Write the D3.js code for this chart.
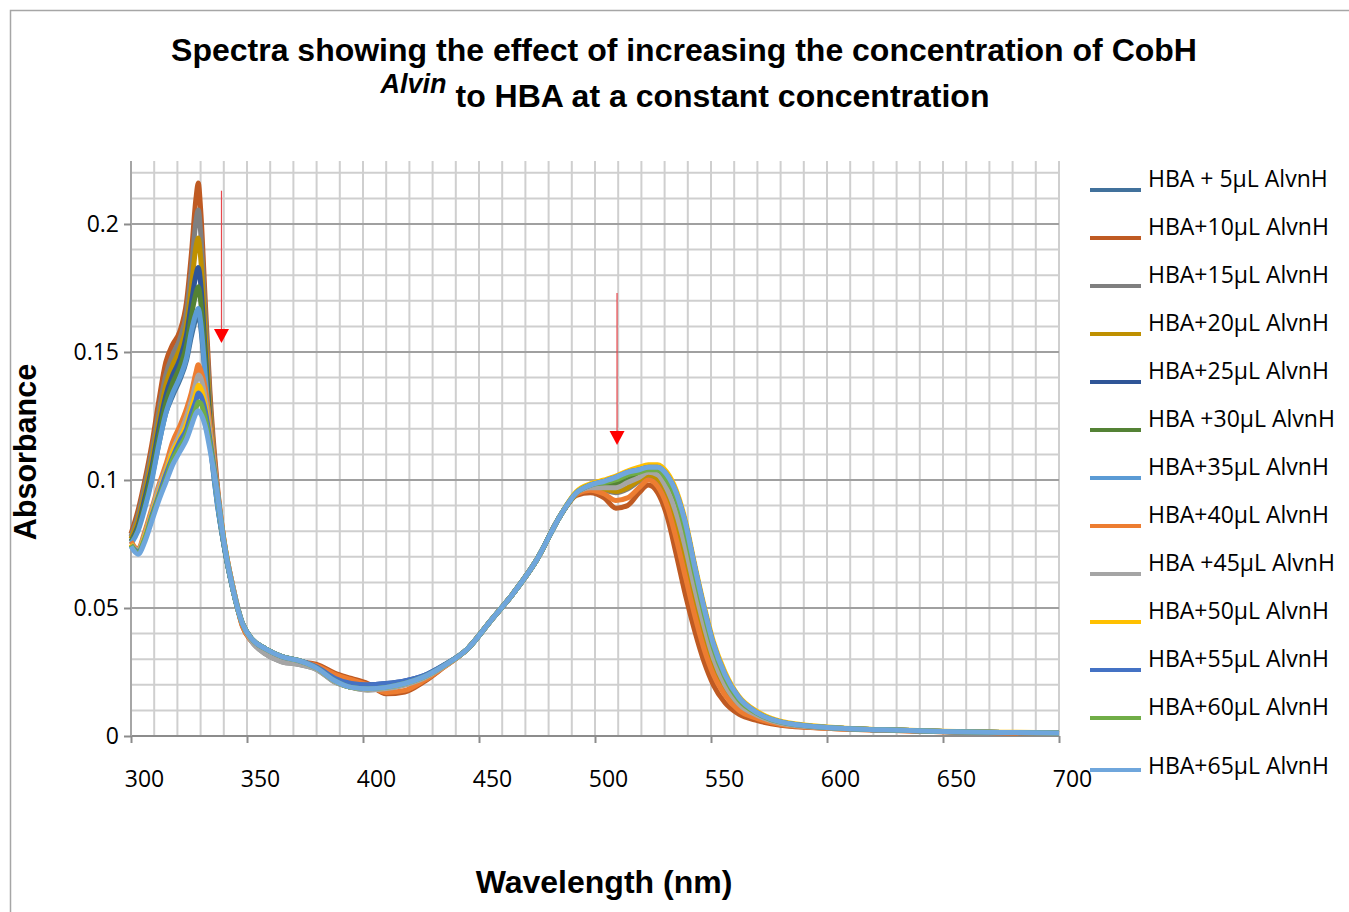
<!DOCTYPE html>
<html><head><meta charset="utf-8">
<script src="https://cdn.jsdelivr.net/npm/d3@7"></script>
<style>body{margin:0;background:#fff}</style>
</head><body><svg id="c" width="1349" height="912"></svg>
<script>
// ---------- DATA ----------
const wavelengths = [300,303,306,309,312,315,318,321,324,326,328,329,330,332,334,337,340,
  344,348,352,358,365,372,380,388,395,402,410,418,426,435,445,455,465,475,485,492,
  498,504,509,514,519,523,527,531,535,539,543,547,551,556,562,570,580,600,625,650,675,700];

const hba05 = [.077,.082,.090,.101,.114,.126,.133,.139,.147,.156,.163,.165,.160,.140,.116,.092,.075,
  .057,.044,.038,.034,.031,.0295,.0265,.0215,.019,.0185,.019,.0205,.023,.0275,.034,.045,.056,.069,.086,.095,
  .098,.0995,.101,.103,.104,.105,.105,.102,.095,.083,.066,.050,.036,.024,.015,.009,.0055,.0033,.0024,.0018,.0014,.0012];
const hba10 = [.079,.088,.100,.114,.131,.146,.153,.158,.170,.188,.210,.216,.206,.170,.135,.100,.077,
  .058,.043,.037,.0335,.0305,.029,.028,.0245,.0225,.0205,.0165,.0172,.021,.027,.034,.045,.056,.069,.086,.094,
  .095,.093,.089,.090,.095,.098,.095,.086,.071,.055,.041,.029,.020,.013,.0085,.006,.0042,.003,.0022,.0017,.0013,.001];
const hba15 = [.078,.086,.098,.111,.127,.141,.149,.155,.166,.182,.201,.2055,.197,.164,.131,.098,.076,
  .058,.044,.037,.032,.029,.028,.026,.021,.019,.018,.0185,.020,.0225,.0272,.034,.045,.056,.069,.086,.0945,
  .0965,.096,.095,.0965,.0995,.1015,.100,.094,.083,.069,.0535,.0395,.028,.0185,.0118,.0075,.0048,.0032,.0023,.0018,.0014,.0012];
const hba20 = [.077,.084,.095,.108,.123,.137,.145,.151,.161,.175,.191,.1945,.187,.157,.127,.096,.076,
  .057,.044,.038,.034,.031,.0295,.0265,.0215,.019,.0185,.019,.0205,.023,.0275,.034,.045,.056,.069,.086,.0945,
  .097,.0965,.0955,.097,.100,.102,.1005,.095,.084,.070,.0545,.040,.0285,.019,.012,.0077,.0049,.0033,.0024,.0018,.0014,.0012];
const hba25 = [.076,.082,.093,.105,.120,.133,.141,.147,.157,.169,.180,.183,.177,.150,.123,.094,.075,
  .057,.044,.038,.034,.031,.0295,.027,.0225,.0205,.020,.0205,.0215,.0235,.0278,.034,.045,.056,.069,.086,.095,
  .098,.099,.100,.102,.103,.104,.104,.100,.093,.080,.0635,.048,.0345,.023,.0142,.0088,.0054,.0033,.0024,.0018,.0014,.0012];
const hba30 = [.076,.081,.091,.103,.117,.130,.138,.144,.153,.164,.173,.1755,.170,.146,.120,.093,.075,
  .057,.044,.038,.034,.031,.0295,.0265,.0215,.019,.0185,.019,.0205,.023,.0275,.034,.045,.056,.069,.086,.095,
  .0975,.098,.0985,.100,.102,.1035,.103,.098,.090,.077,.061,.046,.033,.0218,.0135,.0085,.0052,.0033,.0024,.0018,.0014,.0012];
const hba35 = [.075,.080,.089,.100,.114,.126,.134,.140,.148,.158,.165,.167,.162,.141,.117,.092,.075,
  .057,.044,.038,.034,.031,.0295,.0265,.0215,.019,.0185,.019,.0205,.023,.0275,.034,.045,.056,.069,.086,.095,
  .098,.0995,.101,.103,.104,.105,.105,.102,.095,.083,.066,.050,.036,.024,.015,.009,.0055,.0033,.0024,.0018,.0014,.0012];
const hba40 = [.076,.073,.080,.089,.098,.106,.115,.121,.128,.134,.142,.145,.143,.136,.122,.098,.077,
  .058,.043,.037,.0335,.0305,.029,.0275,.024,.022,.020,.017,.0178,.0215,.027,.034,.045,.056,.069,.086,.0945,
  .096,.0945,.092,.093,.097,.100,.0975,.090,.077,.062,.047,.034,.024,.016,.010,.0068,.0045,.003,.0022,.0017,.0013,.001];
const hba45 = [.075,.0725,.079,.088,.097,.104,.112,.118,.125,.131,.138,.141,.140,.132,.119,.097,.0765,
  .058,.044,.037,.032,.029,.028,.026,.021,.019,.018,.0185,.020,.0225,.0272,.034,.045,.056,.069,.086,.095,
  .097,.097,.097,.099,.101,.103,.102,.0965,.087,.0735,.0575,.043,.0305,.020,.0125,.008,.005,.0032,.0023,.0018,.0014,.0012];
const hba50 = [.075,.072,.078,.087,.095,.103,.111,.116,.122,.128,.134,.137,.136,.129,.117,.097,.0765,
  .057,.044,.038,.034,.031,.0295,.0265,.0215,.019,.0185,.019,.0205,.023,.0275,.034,.045,.056,.069,.086,.0955,
  .0985,.100,.1015,.1035,.105,.106,.106,.103,.096,.084,.067,.051,.037,.025,.0155,.0095,.0058,.0035,.0025,.0019,.0015,.0013];
const hba55 = [.0745,.072,.077,.086,.094,.102,.109,.115,.120,.126,.131,.134,.133,.127,.116,.097,.076,
  .057,.044,.038,.034,.031,.0295,.027,.0225,.0205,.020,.0205,.0215,.0235,.0278,.034,.045,.056,.069,.086,.095,
  .098,.0995,.101,.103,.104,.105,.105,.102,.095,.083,.066,.050,.036,.024,.015,.009,.0055,.0033,.0024,.0018,.0014,.0012];
const hba60 = [.0745,.0715,.077,.085,.093,.100,.108,.113,.118,.123,.128,.1305,.130,.124,.114,.096,.076,
  .057,.044,.038,.034,.031,.0295,.0265,.0215,.019,.0185,.019,.0205,.023,.0275,.034,.045,.056,.069,.086,.095,
  .098,.099,.100,.102,.103,.104,.104,.100,.093,.080,.0635,.048,.0345,.023,.0142,.0088,.0054,.0033,.0024,.0018,.0014,.0012];
const hba65 = [.074,.071,.076,.084,.092,.099,.106,.111,.116,.121,.126,.127,.126,.121,.112,.096,.076,
  .057,.044,.038,.034,.031,.0295,.0265,.0215,.019,.0185,.019,.0205,.023,.0275,.034,.045,.056,.069,.086,.095,
  .098,.0995,.101,.103,.104,.105,.105,.102,.095,.083,.066,.050,.036,.024,.015,.009,.0055,.0033,.0024,.0018,.0014,.0012];

const seriesNames = ["HBA + 5\u00b5L AlvnH","HBA+10\u00b5L AlvnH","HBA+15\u00b5L AlvnH","HBA+20\u00b5L AlvnH",
  "HBA+25\u00b5L AlvnH","HBA +30\u00b5L AlvnH","HBA+35\u00b5L AlvnH","HBA+40\u00b5L AlvnH","HBA +45\u00b5L AlvnH",
  "HBA+50\u00b5L AlvnH","HBA+55\u00b5L AlvnH","HBA+60\u00b5L AlvnH","HBA+65\u00b5L AlvnH"];
const seriesValues = [hba05,hba10,hba15,hba20,hba25,hba30,hba35,hba40,hba45,hba50,hba55,hba60,hba65];
const seriesColors = ["#41719C","#BF5A22","#7F7F7F","#BF9000","#2F5597","#548235",
  "#5B9BD5","#ED7D31","#A5A5A5","#FFC000","#4472C4","#70AD47","#6FA6DC"];

const xTicks = [300,350,400,450,500,550,600,650,700];
const yTicks = [0,0.05,0.1,0.15,0.2];
const yTickLabels = ["0","0.05","0.1","0.15","0.2"];
const arrows = [{x:339, from:0.213, to:0.1535},{x:509.5, from:0.173, to:0.1137}];

// ---------- CHART ----------
const svg = d3.select("#c");
svg.append("rect").attr("x",0).attr("y",0).attr("width",1349).attr("height",912).attr("fill","#fff");
svg.append("path").attr("d","M10.5,920 V10.5 H1360").attr("fill","none").attr("stroke","#A6A6A6").attr("stroke-width",1.5);

const L=131, R=1059, T=161, B=736;
const x = d3.scaleLinear().domain([300,700]).range([L,R]);
const y = d3.scaleLinear().domain([0,0.2246]).range([B,T]);

const grid = svg.append("g");
d3.range(300,701,10).forEach(v=>{
  grid.append("line").attr("x1",x(v)).attr("x2",x(v)).attr("y1",T).attr("y2",B)
    .attr("stroke","#CFCFCF").attr("stroke-width",2);
});
d3.range(1,23).forEach(i=>{
  const v=i/100; const major = i%5===0;
  grid.append("line").attr("x1",L).attr("x2",R).attr("y1",y(v)).attr("y2",y(v))
    .attr("stroke",major?"#A0A0A0":"#CFCFCF").attr("stroke-width",2);
});
svg.append("line").attr("x1",L).attr("x2",R).attr("y1",B).attr("y2",B).attr("stroke","#8C8C8C").attr("stroke-width",2);
svg.append("line").attr("x1",L).attr("x2",L).attr("y1",T).attr("y2",B).attr("stroke","#A6A6A6").attr("stroke-width",2);

const tickFont = "'Open Sans', 'Noto Sans', sans-serif";
const yAxis = svg.append("g").attr("transform",`translate(${L},0)`)
  .call(d3.axisLeft(y).tickValues(yTicks).tickSize(7).tickPadding(5).tickFormat((d,i)=>yTickLabels[i]));
yAxis.select(".domain").remove();
yAxis.selectAll(".tick line").attr("stroke","#8C8C8C").attr("stroke-width",2);
yAxis.selectAll(".tick text").attr("font-family",tickFont).attr("font-size",23).attr("fill","#000");

const xAxis = svg.append("g").attr("transform",`translate(0,${B})`)
  .call(d3.axisBottom(x).tickValues(xTicks).tickSize(7).tickPadding(28).tickFormat(d3.format("d")));
xAxis.select(".domain").remove();
xAxis.selectAll(".tick line").attr("stroke","#8C8C8C").attr("stroke-width",2);
xAxis.selectAll(".tick text").attr("font-family",tickFont).attr("font-size",23).attr("fill","#000").attr("dx",13);

// series
const line = d3.line().x((d,i)=>x(wavelengths[i])).y(d=>y(d)).curve(d3.curveMonotoneX);
seriesValues.forEach((vals,k)=>{
  svg.append("path").datum(vals).attr("d",line).attr("fill","none")
    .attr("stroke",seriesColors[k]).attr("stroke-width",5).attr("stroke-linejoin","round");
});

// arrows
arrows.forEach(a=>{
  const ax=x(a.x), y1=y(a.from), yt=y(a.to);
  svg.append("line").attr("x1",ax).attr("x2",ax).attr("y1",y1).attr("y2",yt-14)
    .attr("stroke","#E8474C").attr("stroke-width",1.2);
  svg.append("path").attr("d",`M${ax-7.5},${yt-14} L${ax+7.5},${yt-14} L${ax},${yt} Z`).attr("fill","#FF0000");
});

// legend
const lg = svg.append("g");
seriesNames.forEach((n,i)=>{
  const ly = 190 + i*48 + (i===12?4:0);
  lg.append("line").attr("x1",1090).attr("x2",1141).attr("y1",ly).attr("y2",ly)
    .attr("stroke",seriesColors[i]).attr("stroke-width",4);
  lg.append("text").attr("x",1148).attr("y",ly-3 + (i===12?7:0)).attr("font-family",tickFont).attr("font-size",23)
    .attr("fill","#000").text(n);
});

// titles
const tf = "'Liberation Sans', Arial, sans-serif";
svg.append("text").attr("x",684).attr("y",61).attr("text-anchor","middle").attr("font-family",tf)
  .attr("font-weight","bold").attr("font-size",32).text("Spectra showing the effect of increasing the concentration of CobH");
const t2 = svg.append("text").attr("x",685).attr("y",107).attr("text-anchor","middle").attr("font-family",tf)
  .attr("font-weight","bold").attr("font-size",32);
t2.append("tspan").attr("font-style","italic").attr("font-size",27).attr("dy",-14).text("Alvin");
t2.append("tspan").attr("dy",14).text(" to HBA at a constant concentration");

svg.append("text").attr("transform","translate(36,452) rotate(-90)").attr("text-anchor","middle")
  .attr("font-family",tf).attr("font-weight","bold").attr("font-size",30.5).text("Absorbance");
svg.append("text").attr("x",604).attr("y",893).attr("text-anchor","middle")
  .attr("font-family",tf).attr("font-weight","bold").attr("font-size",32).text("Wavelength (nm)");
</script></body></html>
